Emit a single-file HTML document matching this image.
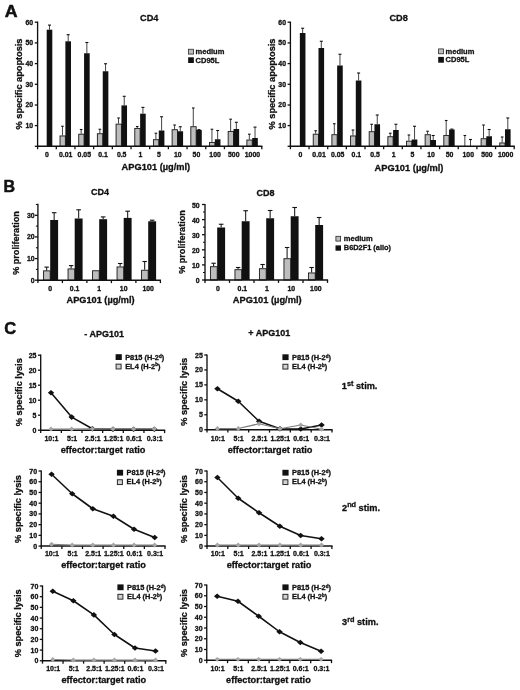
<!DOCTYPE html>
<html lang="en"><head><meta charset="utf-8"><title>Figure</title>
<style>html,body{margin:0;padding:0;background:#fff}svg{display:block;filter:blur(0.4px)}text{font-family:"Liberation Sans", sans-serif;font-weight:bold;fill:#111;stroke:#111;stroke-width:0.3px;stroke-linejoin:round}</style></head><body>
<svg width="520" height="690" viewBox="0 0 520 690">
<rect width="520" height="690" fill="#fff"/>
<text transform="translate(4.7 17.1) scale(1.11 1)" font-size="16" style="stroke-width:0.5px">A</text>
<text x="3.6" y="191.5" font-size="16" text-anchor="start" style="stroke-width:0.5px">B</text>
<text x="4.3" y="333.5" font-size="16.5" text-anchor="start" style="stroke-width:0.5px">C</text>
<rect x="46.70" y="29.70" width="5.60" height="116.60" fill="#111"/>
<line x1="49.50" y1="25.10" x2="49.50" y2="29.70" stroke="#222" stroke-width="0.85"/>
<line x1="48.00" y1="25.10" x2="51.00" y2="25.10" stroke="#111" stroke-width="1.1"/>
<rect x="60.03" y="135.95" width="5.35" height="10.35" fill="#bdbdbd" stroke="#222" stroke-width="0.95"/>
<line x1="62.48" y1="126.25" x2="62.48" y2="135.50" stroke="#222" stroke-width="0.85"/>
<line x1="61.18" y1="126.25" x2="63.78" y2="126.25" stroke="#111" stroke-width="1.1"/>
<rect x="65.38" y="41.30" width="5.60" height="105.00" fill="#111"/>
<line x1="68.18" y1="34.70" x2="68.18" y2="41.30" stroke="#222" stroke-width="0.85"/>
<line x1="66.68" y1="34.70" x2="69.68" y2="34.70" stroke="#111" stroke-width="1.1"/>
<rect x="78.72" y="134.20" width="5.35" height="12.10" fill="#bdbdbd" stroke="#222" stroke-width="0.95"/>
<line x1="81.17" y1="129.50" x2="81.17" y2="133.75" stroke="#222" stroke-width="0.85"/>
<line x1="79.87" y1="129.50" x2="82.47" y2="129.50" stroke="#111" stroke-width="1.1"/>
<rect x="84.07" y="53.25" width="5.60" height="93.05" fill="#111"/>
<line x1="86.87" y1="42.50" x2="86.87" y2="53.25" stroke="#222" stroke-width="0.85"/>
<line x1="85.37" y1="42.50" x2="88.37" y2="42.50" stroke="#111" stroke-width="1.1"/>
<rect x="97.40" y="133.70" width="5.35" height="12.60" fill="#bdbdbd" stroke="#222" stroke-width="0.95"/>
<line x1="99.85" y1="129.25" x2="99.85" y2="133.25" stroke="#222" stroke-width="0.85"/>
<line x1="98.55" y1="129.25" x2="101.15" y2="129.25" stroke="#111" stroke-width="1.1"/>
<rect x="102.75" y="71.25" width="5.60" height="75.05" fill="#111"/>
<line x1="105.55" y1="63.75" x2="105.55" y2="71.25" stroke="#222" stroke-width="0.85"/>
<line x1="104.05" y1="63.75" x2="107.05" y2="63.75" stroke="#111" stroke-width="1.1"/>
<rect x="116.08" y="124.15" width="5.35" height="22.15" fill="#bdbdbd" stroke="#222" stroke-width="0.95"/>
<line x1="118.53" y1="118.00" x2="118.53" y2="123.70" stroke="#222" stroke-width="0.85"/>
<line x1="117.23" y1="118.00" x2="119.83" y2="118.00" stroke="#111" stroke-width="1.1"/>
<rect x="121.43" y="105.40" width="5.60" height="40.90" fill="#111"/>
<line x1="124.23" y1="96.30" x2="124.23" y2="105.40" stroke="#222" stroke-width="0.85"/>
<line x1="122.73" y1="96.30" x2="125.73" y2="96.30" stroke="#111" stroke-width="1.1"/>
<rect x="134.77" y="128.45" width="5.35" height="17.85" fill="#bdbdbd" stroke="#222" stroke-width="0.95"/>
<line x1="137.22" y1="126.50" x2="137.22" y2="128.00" stroke="#222" stroke-width="0.85"/>
<line x1="135.92" y1="126.50" x2="138.52" y2="126.50" stroke="#111" stroke-width="1.1"/>
<rect x="140.12" y="113.70" width="5.60" height="32.60" fill="#111"/>
<line x1="142.92" y1="107.40" x2="142.92" y2="113.70" stroke="#222" stroke-width="0.85"/>
<line x1="141.42" y1="107.40" x2="144.42" y2="107.40" stroke="#111" stroke-width="1.1"/>
<rect x="153.45" y="139.70" width="5.35" height="6.60" fill="#bdbdbd" stroke="#222" stroke-width="0.95"/>
<line x1="155.90" y1="133.25" x2="155.90" y2="139.25" stroke="#222" stroke-width="0.85"/>
<line x1="154.60" y1="133.25" x2="157.20" y2="133.25" stroke="#111" stroke-width="1.1"/>
<rect x="158.80" y="130.50" width="5.60" height="15.80" fill="#111"/>
<line x1="161.60" y1="116.75" x2="161.60" y2="130.50" stroke="#222" stroke-width="0.85"/>
<line x1="160.10" y1="116.75" x2="163.10" y2="116.75" stroke="#111" stroke-width="1.1"/>
<rect x="172.13" y="129.70" width="5.35" height="16.60" fill="#bdbdbd" stroke="#222" stroke-width="0.95"/>
<line x1="174.58" y1="125.00" x2="174.58" y2="129.25" stroke="#222" stroke-width="0.85"/>
<line x1="173.28" y1="125.00" x2="175.88" y2="125.00" stroke="#111" stroke-width="1.1"/>
<rect x="177.48" y="131.25" width="5.60" height="15.05" fill="#111"/>
<line x1="180.28" y1="126.75" x2="180.28" y2="131.25" stroke="#222" stroke-width="0.85"/>
<line x1="178.78" y1="126.75" x2="181.78" y2="126.75" stroke="#111" stroke-width="1.1"/>
<rect x="190.82" y="126.70" width="5.35" height="19.60" fill="#bdbdbd" stroke="#222" stroke-width="0.95"/>
<line x1="193.27" y1="108.00" x2="193.27" y2="126.25" stroke="#222" stroke-width="0.85"/>
<line x1="191.97" y1="108.00" x2="194.57" y2="108.00" stroke="#111" stroke-width="1.1"/>
<rect x="196.17" y="130.00" width="5.60" height="16.30" fill="#111"/>
<line x1="198.97" y1="129.60" x2="198.97" y2="130.00" stroke="#222" stroke-width="0.85"/>
<line x1="197.47" y1="129.60" x2="200.47" y2="129.60" stroke="#111" stroke-width="1.1"/>
<rect x="209.50" y="142.45" width="5.35" height="3.85" fill="#bdbdbd" stroke="#222" stroke-width="0.95"/>
<line x1="211.95" y1="129.25" x2="211.95" y2="142.00" stroke="#222" stroke-width="0.85"/>
<line x1="210.65" y1="129.25" x2="213.25" y2="129.25" stroke="#111" stroke-width="1.1"/>
<rect x="214.85" y="139.25" width="5.60" height="7.05" fill="#111"/>
<line x1="217.65" y1="130.50" x2="217.65" y2="139.25" stroke="#222" stroke-width="0.85"/>
<line x1="216.15" y1="130.50" x2="219.15" y2="130.50" stroke="#111" stroke-width="1.1"/>
<rect x="228.18" y="131.45" width="5.35" height="14.85" fill="#bdbdbd" stroke="#222" stroke-width="0.95"/>
<line x1="230.63" y1="119.20" x2="230.63" y2="131.00" stroke="#222" stroke-width="0.85"/>
<line x1="229.33" y1="119.20" x2="231.93" y2="119.20" stroke="#111" stroke-width="1.1"/>
<rect x="233.53" y="129.00" width="5.60" height="17.30" fill="#111"/>
<line x1="236.33" y1="122.30" x2="236.33" y2="129.00" stroke="#222" stroke-width="0.85"/>
<line x1="234.83" y1="122.30" x2="237.83" y2="122.30" stroke="#111" stroke-width="1.1"/>
<rect x="246.87" y="140.05" width="5.35" height="6.25" fill="#bdbdbd" stroke="#222" stroke-width="0.95"/>
<line x1="249.32" y1="134.20" x2="249.32" y2="139.60" stroke="#222" stroke-width="0.85"/>
<line x1="248.02" y1="134.20" x2="250.62" y2="134.20" stroke="#111" stroke-width="1.1"/>
<rect x="252.22" y="138.00" width="5.60" height="8.30" fill="#111"/>
<line x1="255.02" y1="127.10" x2="255.02" y2="138.00" stroke="#222" stroke-width="0.85"/>
<line x1="253.52" y1="127.10" x2="256.52" y2="127.10" stroke="#111" stroke-width="1.1"/>
<line x1="37.60" y1="21.60" x2="37.60" y2="147.00" stroke="#111" stroke-width="1.35"/>
<line x1="37.00" y1="146.30" x2="262.40" y2="146.30" stroke="#111" stroke-width="1.5"/>
<line x1="37.60" y1="146.30" x2="37.60" y2="149.20" stroke="#111" stroke-width="1.3"/>
<line x1="56.28" y1="146.30" x2="56.28" y2="149.20" stroke="#111" stroke-width="1.3"/>
<line x1="74.97" y1="146.30" x2="74.97" y2="149.20" stroke="#111" stroke-width="1.3"/>
<line x1="93.65" y1="146.30" x2="93.65" y2="149.20" stroke="#111" stroke-width="1.3"/>
<line x1="112.33" y1="146.30" x2="112.33" y2="149.20" stroke="#111" stroke-width="1.3"/>
<line x1="131.02" y1="146.30" x2="131.02" y2="149.20" stroke="#111" stroke-width="1.3"/>
<line x1="149.70" y1="146.30" x2="149.70" y2="149.20" stroke="#111" stroke-width="1.3"/>
<line x1="168.38" y1="146.30" x2="168.38" y2="149.20" stroke="#111" stroke-width="1.3"/>
<line x1="187.07" y1="146.30" x2="187.07" y2="149.20" stroke="#111" stroke-width="1.3"/>
<line x1="205.75" y1="146.30" x2="205.75" y2="149.20" stroke="#111" stroke-width="1.3"/>
<line x1="224.43" y1="146.30" x2="224.43" y2="149.20" stroke="#111" stroke-width="1.3"/>
<line x1="243.12" y1="146.30" x2="243.12" y2="149.20" stroke="#111" stroke-width="1.3"/>
<line x1="261.80" y1="146.30" x2="261.80" y2="149.20" stroke="#111" stroke-width="1.3"/>
<line x1="34.80" y1="22.20" x2="37.60" y2="22.20" stroke="#111" stroke-width="1.3"/>
<text x="33.2" y="24.55" font-size="6.9" text-anchor="end">60</text>
<line x1="34.80" y1="42.90" x2="37.60" y2="42.90" stroke="#111" stroke-width="1.3"/>
<text x="33.2" y="45.25" font-size="6.9" text-anchor="end">50</text>
<line x1="34.80" y1="63.60" x2="37.60" y2="63.60" stroke="#111" stroke-width="1.3"/>
<text x="33.2" y="65.95" font-size="6.9" text-anchor="end">40</text>
<line x1="34.80" y1="84.30" x2="37.60" y2="84.30" stroke="#111" stroke-width="1.3"/>
<text x="33.2" y="86.65" font-size="6.9" text-anchor="end">30</text>
<line x1="34.80" y1="105.00" x2="37.60" y2="105.00" stroke="#111" stroke-width="1.3"/>
<text x="33.2" y="107.35" font-size="6.9" text-anchor="end">20</text>
<line x1="34.80" y1="125.60" x2="37.60" y2="125.60" stroke="#111" stroke-width="1.3"/>
<text x="33.2" y="127.95" font-size="6.9" text-anchor="end">10</text>
<line x1="34.80" y1="146.30" x2="37.60" y2="146.30" stroke="#111" stroke-width="1.3"/>
<text x="46.94" y="156.6" font-size="6.9" text-anchor="middle">0</text>
<text x="65.62" y="156.6" font-size="6.9" text-anchor="middle">0.01</text>
<text x="84.31" y="156.6" font-size="6.9" text-anchor="middle">0.05</text>
<text x="102.99" y="156.6" font-size="6.9" text-anchor="middle">0.1</text>
<text x="121.68" y="156.6" font-size="6.9" text-anchor="middle">0.5</text>
<text x="140.36" y="156.6" font-size="6.9" text-anchor="middle">1</text>
<text x="159.04" y="156.6" font-size="6.9" text-anchor="middle">5</text>
<text x="177.72" y="156.6" font-size="6.9" text-anchor="middle">10</text>
<text x="196.41" y="156.6" font-size="6.9" text-anchor="middle">50</text>
<text x="215.09" y="156.6" font-size="6.9" text-anchor="middle">100</text>
<text x="233.78" y="156.6" font-size="6.9" text-anchor="middle">500</text>
<text x="252.46" y="156.6" font-size="6.9" text-anchor="middle">1000</text>
<text x="149.2" y="21.4" font-size="9.2" text-anchor="middle">CD4</text>
<text x="155.9" y="170.3" font-size="9.25" text-anchor="middle">APG101 (µg/ml)</text>
<text x="21.6" y="84.0" font-size="9.2" text-anchor="middle" transform="rotate(-90 21.6 84.0)">% specific apoptosis</text>
<rect x="188.55" y="49.25" width="4.90" height="4.85" fill="#bdbdbd" stroke="#2a2a2a" stroke-width="0.8"/>
<text x="195.6" y="54.0" font-size="7.5" text-anchor="start">medium</text>
<rect x="188.15" y="57.30" width="5.70" height="5.70" fill="#111"/>
<text x="195.6" y="62.6" font-size="7.5" text-anchor="start">CD95L</text>
<rect x="299.85" y="33.00" width="5.60" height="113.30" fill="#111"/>
<line x1="302.65" y1="28.25" x2="302.65" y2="33.00" stroke="#222" stroke-width="0.85"/>
<line x1="301.15" y1="28.25" x2="304.15" y2="28.25" stroke="#111" stroke-width="1.1"/>
<rect x="313.25" y="134.20" width="5.25" height="12.10" fill="#bdbdbd" stroke="#222" stroke-width="0.95"/>
<line x1="315.65" y1="130.75" x2="315.65" y2="133.75" stroke="#222" stroke-width="0.85"/>
<line x1="314.35" y1="130.75" x2="316.95" y2="130.75" stroke="#111" stroke-width="1.1"/>
<rect x="318.50" y="48.00" width="5.60" height="98.30" fill="#111"/>
<line x1="321.30" y1="41.25" x2="321.30" y2="48.00" stroke="#222" stroke-width="0.85"/>
<line x1="319.80" y1="41.25" x2="322.80" y2="41.25" stroke="#111" stroke-width="1.1"/>
<rect x="331.90" y="134.70" width="5.25" height="11.60" fill="#bdbdbd" stroke="#222" stroke-width="0.95"/>
<line x1="334.30" y1="123.75" x2="334.30" y2="134.25" stroke="#222" stroke-width="0.85"/>
<line x1="333.00" y1="123.75" x2="335.60" y2="123.75" stroke="#111" stroke-width="1.1"/>
<rect x="337.15" y="65.50" width="5.60" height="80.80" fill="#111"/>
<line x1="339.95" y1="54.25" x2="339.95" y2="65.50" stroke="#222" stroke-width="0.85"/>
<line x1="338.45" y1="54.25" x2="341.45" y2="54.25" stroke="#111" stroke-width="1.1"/>
<rect x="350.55" y="135.95" width="5.25" height="10.35" fill="#bdbdbd" stroke="#222" stroke-width="0.95"/>
<line x1="352.95" y1="130.00" x2="352.95" y2="135.50" stroke="#222" stroke-width="0.85"/>
<line x1="351.65" y1="130.00" x2="354.25" y2="130.00" stroke="#111" stroke-width="1.1"/>
<rect x="355.80" y="80.50" width="5.60" height="65.80" fill="#111"/>
<line x1="358.60" y1="73.00" x2="358.60" y2="80.50" stroke="#222" stroke-width="0.85"/>
<line x1="357.10" y1="73.00" x2="360.10" y2="73.00" stroke="#111" stroke-width="1.1"/>
<rect x="369.20" y="131.70" width="5.25" height="14.60" fill="#bdbdbd" stroke="#222" stroke-width="0.95"/>
<line x1="371.60" y1="124.25" x2="371.60" y2="131.25" stroke="#222" stroke-width="0.85"/>
<line x1="370.30" y1="124.25" x2="372.90" y2="124.25" stroke="#111" stroke-width="1.1"/>
<rect x="374.45" y="124.25" width="5.60" height="22.05" fill="#111"/>
<line x1="377.25" y1="115.00" x2="377.25" y2="124.25" stroke="#222" stroke-width="0.85"/>
<line x1="375.75" y1="115.00" x2="378.75" y2="115.00" stroke="#111" stroke-width="1.1"/>
<rect x="387.85" y="136.70" width="5.25" height="9.60" fill="#bdbdbd" stroke="#222" stroke-width="0.95"/>
<line x1="390.25" y1="133.25" x2="390.25" y2="136.25" stroke="#222" stroke-width="0.85"/>
<line x1="388.95" y1="133.25" x2="391.55" y2="133.25" stroke="#111" stroke-width="1.1"/>
<rect x="393.10" y="130.00" width="5.60" height="16.30" fill="#111"/>
<line x1="395.90" y1="124.25" x2="395.90" y2="130.00" stroke="#222" stroke-width="0.85"/>
<line x1="394.40" y1="124.25" x2="397.40" y2="124.25" stroke="#111" stroke-width="1.1"/>
<rect x="406.50" y="141.20" width="5.25" height="5.10" fill="#bdbdbd" stroke="#222" stroke-width="0.95"/>
<line x1="408.90" y1="135.00" x2="408.90" y2="140.75" stroke="#222" stroke-width="0.85"/>
<line x1="407.60" y1="135.00" x2="410.20" y2="135.00" stroke="#111" stroke-width="1.1"/>
<rect x="411.75" y="139.50" width="5.60" height="6.80" fill="#111"/>
<line x1="414.55" y1="126.25" x2="414.55" y2="139.50" stroke="#222" stroke-width="0.85"/>
<line x1="413.05" y1="126.25" x2="416.05" y2="126.25" stroke="#111" stroke-width="1.1"/>
<rect x="425.15" y="134.70" width="5.25" height="11.60" fill="#bdbdbd" stroke="#222" stroke-width="0.95"/>
<line x1="427.55" y1="131.25" x2="427.55" y2="134.25" stroke="#222" stroke-width="0.85"/>
<line x1="426.25" y1="131.25" x2="428.85" y2="131.25" stroke="#111" stroke-width="1.1"/>
<rect x="430.40" y="140.00" width="5.60" height="6.30" fill="#111"/>
<line x1="433.20" y1="135.50" x2="433.20" y2="140.00" stroke="#222" stroke-width="0.85"/>
<line x1="431.70" y1="135.50" x2="434.70" y2="135.50" stroke="#111" stroke-width="1.1"/>
<rect x="443.80" y="135.45" width="5.25" height="10.85" fill="#bdbdbd" stroke="#222" stroke-width="0.95"/>
<line x1="446.20" y1="120.50" x2="446.20" y2="135.00" stroke="#222" stroke-width="0.85"/>
<line x1="444.90" y1="120.50" x2="447.50" y2="120.50" stroke="#111" stroke-width="1.1"/>
<rect x="449.05" y="129.50" width="5.60" height="16.80" fill="#111"/>
<line x1="451.85" y1="129.10" x2="451.85" y2="129.50" stroke="#222" stroke-width="0.85"/>
<line x1="450.35" y1="129.10" x2="453.35" y2="129.10" stroke="#111" stroke-width="1.1"/>
<line x1="464.85" y1="135.50" x2="464.85" y2="146.30" stroke="#222" stroke-width="0.85"/>
<line x1="463.55" y1="135.50" x2="466.15" y2="135.50" stroke="#111" stroke-width="1.1"/>
<line x1="470.50" y1="139.50" x2="470.50" y2="146.30" stroke="#222" stroke-width="0.85"/>
<line x1="469.00" y1="139.50" x2="472.00" y2="139.50" stroke="#111" stroke-width="1.1"/>
<rect x="481.10" y="138.70" width="5.25" height="7.60" fill="#bdbdbd" stroke="#222" stroke-width="0.95"/>
<line x1="483.50" y1="125.00" x2="483.50" y2="138.25" stroke="#222" stroke-width="0.85"/>
<line x1="482.20" y1="125.00" x2="484.80" y2="125.00" stroke="#111" stroke-width="1.1"/>
<rect x="486.35" y="136.25" width="5.60" height="10.05" fill="#111"/>
<line x1="489.15" y1="129.50" x2="489.15" y2="136.25" stroke="#222" stroke-width="0.85"/>
<line x1="487.65" y1="129.50" x2="490.65" y2="129.50" stroke="#111" stroke-width="1.1"/>
<rect x="499.75" y="142.95" width="5.25" height="3.35" fill="#bdbdbd" stroke="#222" stroke-width="0.95"/>
<line x1="502.15" y1="137.00" x2="502.15" y2="142.50" stroke="#222" stroke-width="0.85"/>
<line x1="500.85" y1="137.00" x2="503.45" y2="137.00" stroke="#111" stroke-width="1.1"/>
<rect x="505.00" y="129.25" width="5.60" height="17.05" fill="#111"/>
<line x1="507.80" y1="118.00" x2="507.80" y2="129.25" stroke="#222" stroke-width="0.85"/>
<line x1="506.30" y1="118.00" x2="509.30" y2="118.00" stroke="#111" stroke-width="1.1"/>
<line x1="290.40" y1="21.60" x2="290.40" y2="147.00" stroke="#111" stroke-width="1.35"/>
<line x1="289.80" y1="146.30" x2="514.80" y2="146.30" stroke="#111" stroke-width="1.5"/>
<line x1="290.40" y1="146.30" x2="290.40" y2="149.20" stroke="#111" stroke-width="1.3"/>
<line x1="309.05" y1="146.30" x2="309.05" y2="149.20" stroke="#111" stroke-width="1.3"/>
<line x1="327.70" y1="146.30" x2="327.70" y2="149.20" stroke="#111" stroke-width="1.3"/>
<line x1="346.35" y1="146.30" x2="346.35" y2="149.20" stroke="#111" stroke-width="1.3"/>
<line x1="365.00" y1="146.30" x2="365.00" y2="149.20" stroke="#111" stroke-width="1.3"/>
<line x1="383.65" y1="146.30" x2="383.65" y2="149.20" stroke="#111" stroke-width="1.3"/>
<line x1="402.30" y1="146.30" x2="402.30" y2="149.20" stroke="#111" stroke-width="1.3"/>
<line x1="420.95" y1="146.30" x2="420.95" y2="149.20" stroke="#111" stroke-width="1.3"/>
<line x1="439.60" y1="146.30" x2="439.60" y2="149.20" stroke="#111" stroke-width="1.3"/>
<line x1="458.25" y1="146.30" x2="458.25" y2="149.20" stroke="#111" stroke-width="1.3"/>
<line x1="476.90" y1="146.30" x2="476.90" y2="149.20" stroke="#111" stroke-width="1.3"/>
<line x1="495.55" y1="146.30" x2="495.55" y2="149.20" stroke="#111" stroke-width="1.3"/>
<line x1="514.20" y1="146.30" x2="514.20" y2="149.20" stroke="#111" stroke-width="1.3"/>
<line x1="287.60" y1="22.20" x2="290.40" y2="22.20" stroke="#111" stroke-width="1.3"/>
<text x="286.0" y="24.55" font-size="6.9" text-anchor="end">60</text>
<line x1="287.60" y1="42.90" x2="290.40" y2="42.90" stroke="#111" stroke-width="1.3"/>
<text x="286.0" y="45.25" font-size="6.9" text-anchor="end">50</text>
<line x1="287.60" y1="63.60" x2="290.40" y2="63.60" stroke="#111" stroke-width="1.3"/>
<text x="286.0" y="65.95" font-size="6.9" text-anchor="end">40</text>
<line x1="287.60" y1="84.30" x2="290.40" y2="84.30" stroke="#111" stroke-width="1.3"/>
<text x="286.0" y="86.65" font-size="6.9" text-anchor="end">30</text>
<line x1="287.60" y1="105.00" x2="290.40" y2="105.00" stroke="#111" stroke-width="1.3"/>
<text x="286.0" y="107.35" font-size="6.9" text-anchor="end">20</text>
<line x1="287.60" y1="125.60" x2="290.40" y2="125.60" stroke="#111" stroke-width="1.3"/>
<text x="286.0" y="127.95" font-size="6.9" text-anchor="end">10</text>
<line x1="287.60" y1="146.30" x2="290.40" y2="146.30" stroke="#111" stroke-width="1.3"/>
<text x="300.42" y="156.6" font-size="6.9" text-anchor="middle">0</text>
<text x="319.07" y="156.6" font-size="6.9" text-anchor="middle">0.01</text>
<text x="337.72" y="156.6" font-size="6.9" text-anchor="middle">0.05</text>
<text x="356.38" y="156.6" font-size="6.9" text-anchor="middle">0.1</text>
<text x="375.02" y="156.6" font-size="6.9" text-anchor="middle">0.5</text>
<text x="393.68" y="156.6" font-size="6.9" text-anchor="middle">1</text>
<text x="412.32" y="156.6" font-size="6.9" text-anchor="middle">5</text>
<text x="430.98" y="156.6" font-size="6.9" text-anchor="middle">10</text>
<text x="449.62" y="156.6" font-size="6.9" text-anchor="middle">50</text>
<text x="468.28" y="156.6" font-size="6.9" text-anchor="middle">100</text>
<text x="486.93" y="156.6" font-size="6.9" text-anchor="middle">500</text>
<text x="505.58" y="156.6" font-size="6.9" text-anchor="middle">1000</text>
<text x="398.6" y="21.4" font-size="9.2" text-anchor="middle">CD8</text>
<text x="409.0" y="170.5" font-size="9.3" text-anchor="middle">APG101 (µg/ml)</text>
<text x="275.3" y="84.0" font-size="9.2" text-anchor="middle" transform="rotate(-90 275.3 84.0)">% specific apoptosis</text>
<rect x="438.60" y="48.90" width="4.90" height="4.90" fill="#bdbdbd" stroke="#2a2a2a" stroke-width="0.8"/>
<text x="445.6" y="53.9" font-size="7.5" text-anchor="start">medium</text>
<rect x="438.20" y="56.90" width="5.70" height="5.80" fill="#111"/>
<text x="445.6" y="62.2" font-size="7.5" text-anchor="start">CD95L</text>
<rect x="43.55" y="270.85" width="6.65" height="9.35" fill="#bdbdbd" stroke="#222" stroke-width="0.95"/>
<line x1="46.65" y1="267.10" x2="46.65" y2="270.40" stroke="#222" stroke-width="1.1"/>
<line x1="44.45" y1="267.10" x2="48.85" y2="267.10" stroke="#111" stroke-width="1.1"/>
<rect x="50.20" y="220.00" width="7.90" height="60.20" fill="#111"/>
<line x1="54.15" y1="212.70" x2="54.15" y2="220.00" stroke="#222" stroke-width="1.1"/>
<line x1="51.85" y1="212.70" x2="56.45" y2="212.70" stroke="#111" stroke-width="1.1"/>
<rect x="68.05" y="268.95" width="6.65" height="11.25" fill="#bdbdbd" stroke="#222" stroke-width="0.95"/>
<line x1="71.15" y1="265.60" x2="71.15" y2="268.50" stroke="#222" stroke-width="1.1"/>
<line x1="68.95" y1="265.60" x2="73.35" y2="265.60" stroke="#111" stroke-width="1.1"/>
<rect x="74.70" y="218.50" width="7.90" height="61.70" fill="#111"/>
<line x1="78.65" y1="209.80" x2="78.65" y2="218.50" stroke="#222" stroke-width="1.1"/>
<line x1="76.35" y1="209.80" x2="80.95" y2="209.80" stroke="#111" stroke-width="1.1"/>
<rect x="92.55" y="270.75" width="6.65" height="9.45" fill="#bdbdbd" stroke="#222" stroke-width="0.95"/>
<rect x="99.20" y="219.20" width="7.90" height="61.00" fill="#111"/>
<line x1="103.15" y1="216.90" x2="103.15" y2="219.20" stroke="#222" stroke-width="1.1"/>
<line x1="100.85" y1="216.90" x2="105.45" y2="216.90" stroke="#111" stroke-width="1.1"/>
<rect x="117.05" y="266.95" width="6.65" height="13.25" fill="#bdbdbd" stroke="#222" stroke-width="0.95"/>
<line x1="120.15" y1="263.50" x2="120.15" y2="266.50" stroke="#222" stroke-width="1.1"/>
<line x1="117.95" y1="263.50" x2="122.35" y2="263.50" stroke="#111" stroke-width="1.1"/>
<rect x="123.70" y="217.90" width="7.90" height="62.30" fill="#111"/>
<line x1="127.65" y1="211.20" x2="127.65" y2="217.90" stroke="#222" stroke-width="1.1"/>
<line x1="125.35" y1="211.20" x2="129.95" y2="211.20" stroke="#111" stroke-width="1.1"/>
<rect x="141.55" y="270.25" width="6.65" height="9.95" fill="#bdbdbd" stroke="#222" stroke-width="0.95"/>
<line x1="144.65" y1="261.50" x2="144.65" y2="269.80" stroke="#222" stroke-width="1.1"/>
<line x1="142.45" y1="261.50" x2="146.85" y2="261.50" stroke="#111" stroke-width="1.1"/>
<rect x="148.20" y="221.30" width="7.90" height="58.90" fill="#111"/>
<line x1="152.15" y1="220.20" x2="152.15" y2="221.30" stroke="#222" stroke-width="1.1"/>
<line x1="149.85" y1="220.20" x2="154.45" y2="220.20" stroke="#111" stroke-width="1.1"/>
<line x1="37.90" y1="203.70" x2="37.90" y2="280.90" stroke="#111" stroke-width="1.35"/>
<line x1="37.30" y1="280.20" x2="161.00" y2="280.20" stroke="#111" stroke-width="1.5"/>
<line x1="37.90" y1="280.20" x2="37.90" y2="283.10" stroke="#111" stroke-width="1.3"/>
<line x1="62.40" y1="280.20" x2="62.40" y2="283.10" stroke="#111" stroke-width="1.3"/>
<line x1="86.90" y1="280.20" x2="86.90" y2="283.10" stroke="#111" stroke-width="1.3"/>
<line x1="111.40" y1="280.20" x2="111.40" y2="283.10" stroke="#111" stroke-width="1.3"/>
<line x1="135.90" y1="280.20" x2="135.90" y2="283.10" stroke="#111" stroke-width="1.3"/>
<line x1="160.40" y1="280.20" x2="160.40" y2="283.10" stroke="#111" stroke-width="1.3"/>
<line x1="34.90" y1="215.30" x2="37.90" y2="215.30" stroke="#111" stroke-width="1.3"/>
<text x="34.6" y="217.65" font-size="6.9" text-anchor="end">30</text>
<line x1="34.90" y1="236.90" x2="37.90" y2="236.90" stroke="#111" stroke-width="1.3"/>
<text x="34.6" y="239.25" font-size="6.9" text-anchor="end">20</text>
<line x1="34.90" y1="258.60" x2="37.90" y2="258.60" stroke="#111" stroke-width="1.3"/>
<text x="34.6" y="260.95" font-size="6.9" text-anchor="end">10</text>
<line x1="34.90" y1="280.20" x2="37.90" y2="280.20" stroke="#111" stroke-width="1.3"/>
<text x="34.6" y="282.55" font-size="6.9" text-anchor="end">0</text>
<line x1="35.90" y1="204.50" x2="37.90" y2="204.50" stroke="#111" stroke-width="1.1"/>
<line x1="35.90" y1="226.10" x2="37.90" y2="226.10" stroke="#111" stroke-width="1.1"/>
<line x1="35.90" y1="247.75" x2="37.90" y2="247.75" stroke="#111" stroke-width="1.1"/>
<line x1="35.90" y1="269.40" x2="37.90" y2="269.40" stroke="#111" stroke-width="1.1"/>
<text x="50.15" y="290.5" font-size="6.9" text-anchor="middle">0</text>
<text x="74.65" y="290.5" font-size="6.9" text-anchor="middle">0.1</text>
<text x="99.15" y="290.5" font-size="6.9" text-anchor="middle">1</text>
<text x="123.65" y="290.5" font-size="6.9" text-anchor="middle">10</text>
<text x="148.15" y="290.5" font-size="6.9" text-anchor="middle">100</text>
<text x="100.0" y="195.3" font-size="9" text-anchor="middle">CD4</text>
<text x="100.6" y="302.8" font-size="9.2" text-anchor="middle">APG101 (µg/ml)</text>
<text x="18.8" y="243.0" font-size="9.1" text-anchor="middle" transform="rotate(-90 18.8 243.0)">% proliferation</text>
<rect x="210.45" y="266.70" width="6.75" height="13.30" fill="#bdbdbd" stroke="#222" stroke-width="0.95"/>
<line x1="213.60" y1="263.25" x2="213.60" y2="266.25" stroke="#222" stroke-width="1.1"/>
<line x1="211.40" y1="263.25" x2="215.80" y2="263.25" stroke="#111" stroke-width="1.1"/>
<rect x="217.20" y="227.50" width="7.90" height="52.50" fill="#111"/>
<line x1="221.15" y1="224.25" x2="221.15" y2="227.50" stroke="#222" stroke-width="1.1"/>
<line x1="218.85" y1="224.25" x2="223.45" y2="224.25" stroke="#111" stroke-width="1.1"/>
<rect x="234.95" y="269.70" width="6.75" height="10.30" fill="#bdbdbd" stroke="#222" stroke-width="0.95"/>
<line x1="238.10" y1="267.50" x2="238.10" y2="269.25" stroke="#222" stroke-width="1.1"/>
<line x1="235.90" y1="267.50" x2="240.30" y2="267.50" stroke="#111" stroke-width="1.1"/>
<rect x="241.70" y="221.25" width="7.90" height="58.75" fill="#111"/>
<line x1="245.65" y1="210.75" x2="245.65" y2="221.25" stroke="#222" stroke-width="1.1"/>
<line x1="243.35" y1="210.75" x2="247.95" y2="210.75" stroke="#111" stroke-width="1.1"/>
<rect x="259.45" y="268.70" width="6.75" height="11.30" fill="#bdbdbd" stroke="#222" stroke-width="0.95"/>
<line x1="262.60" y1="264.50" x2="262.60" y2="268.25" stroke="#222" stroke-width="1.1"/>
<line x1="260.40" y1="264.50" x2="264.80" y2="264.50" stroke="#111" stroke-width="1.1"/>
<rect x="266.20" y="218.25" width="7.90" height="61.75" fill="#111"/>
<line x1="270.15" y1="210.50" x2="270.15" y2="218.25" stroke="#222" stroke-width="1.1"/>
<line x1="267.85" y1="210.50" x2="272.45" y2="210.50" stroke="#111" stroke-width="1.1"/>
<rect x="283.95" y="258.70" width="6.75" height="21.30" fill="#bdbdbd" stroke="#222" stroke-width="0.95"/>
<line x1="287.10" y1="247.50" x2="287.10" y2="258.25" stroke="#222" stroke-width="1.1"/>
<line x1="284.90" y1="247.50" x2="289.30" y2="247.50" stroke="#111" stroke-width="1.1"/>
<rect x="290.70" y="216.25" width="7.90" height="63.75" fill="#111"/>
<line x1="294.65" y1="207.50" x2="294.65" y2="216.25" stroke="#222" stroke-width="1.1"/>
<line x1="292.35" y1="207.50" x2="296.95" y2="207.50" stroke="#111" stroke-width="1.1"/>
<rect x="308.45" y="272.95" width="6.75" height="7.05" fill="#bdbdbd" stroke="#222" stroke-width="0.95"/>
<line x1="311.60" y1="267.50" x2="311.60" y2="272.50" stroke="#222" stroke-width="1.1"/>
<line x1="309.40" y1="267.50" x2="313.80" y2="267.50" stroke="#111" stroke-width="1.1"/>
<rect x="315.20" y="225.00" width="7.90" height="55.00" fill="#111"/>
<line x1="319.15" y1="217.50" x2="319.15" y2="225.00" stroke="#222" stroke-width="1.1"/>
<line x1="316.85" y1="217.50" x2="321.45" y2="217.50" stroke="#111" stroke-width="1.1"/>
<line x1="205.00" y1="203.90" x2="205.00" y2="280.70" stroke="#111" stroke-width="1.35"/>
<line x1="204.40" y1="280.00" x2="328.10" y2="280.00" stroke="#111" stroke-width="1.5"/>
<line x1="205.00" y1="280.00" x2="205.00" y2="282.90" stroke="#111" stroke-width="1.3"/>
<line x1="229.50" y1="280.00" x2="229.50" y2="282.90" stroke="#111" stroke-width="1.3"/>
<line x1="254.00" y1="280.00" x2="254.00" y2="282.90" stroke="#111" stroke-width="1.3"/>
<line x1="278.50" y1="280.00" x2="278.50" y2="282.90" stroke="#111" stroke-width="1.3"/>
<line x1="303.00" y1="280.00" x2="303.00" y2="282.90" stroke="#111" stroke-width="1.3"/>
<line x1="327.50" y1="280.00" x2="327.50" y2="282.90" stroke="#111" stroke-width="1.3"/>
<line x1="202.00" y1="204.50" x2="205.00" y2="204.50" stroke="#111" stroke-width="1.3"/>
<text x="199.6" y="207.9" font-size="6.9" text-anchor="end">50</text>
<line x1="202.00" y1="219.60" x2="205.00" y2="219.60" stroke="#111" stroke-width="1.3"/>
<text x="199.6" y="223.0" font-size="6.9" text-anchor="end">40</text>
<line x1="202.00" y1="234.70" x2="205.00" y2="234.70" stroke="#111" stroke-width="1.3"/>
<text x="199.6" y="238.1" font-size="6.9" text-anchor="end">30</text>
<line x1="202.00" y1="249.80" x2="205.00" y2="249.80" stroke="#111" stroke-width="1.3"/>
<text x="199.6" y="253.2" font-size="6.9" text-anchor="end">20</text>
<line x1="202.00" y1="264.90" x2="205.00" y2="264.90" stroke="#111" stroke-width="1.3"/>
<text x="199.6" y="268.3" font-size="6.9" text-anchor="end">10</text>
<line x1="202.00" y1="280.00" x2="205.00" y2="280.00" stroke="#111" stroke-width="1.3"/>
<text x="199.6" y="283.4" font-size="6.9" text-anchor="end">0</text>
<line x1="203.00" y1="212.05" x2="205.00" y2="212.05" stroke="#111" stroke-width="1.1"/>
<line x1="203.00" y1="227.15" x2="205.00" y2="227.15" stroke="#111" stroke-width="1.1"/>
<line x1="203.00" y1="242.25" x2="205.00" y2="242.25" stroke="#111" stroke-width="1.1"/>
<line x1="203.00" y1="257.35" x2="205.00" y2="257.35" stroke="#111" stroke-width="1.1"/>
<line x1="203.00" y1="272.45" x2="205.00" y2="272.45" stroke="#111" stroke-width="1.1"/>
<text x="217.85" y="290.5" font-size="6.9" text-anchor="middle">0</text>
<text x="242.35" y="290.5" font-size="6.9" text-anchor="middle">0.1</text>
<text x="266.85" y="290.5" font-size="6.9" text-anchor="middle">1</text>
<text x="291.35" y="290.5" font-size="6.9" text-anchor="middle">10</text>
<text x="315.85" y="290.5" font-size="6.9" text-anchor="middle">100</text>
<text x="265.5" y="195.7" font-size="9" text-anchor="middle">CD8</text>
<text x="267.2" y="302.8" font-size="9.3" text-anchor="middle">APG101 (µg/ml)</text>
<text x="184.6" y="242.0" font-size="9.1" text-anchor="middle" transform="rotate(-90 184.6 242.0)">% proliferation</text>
<rect x="335.90" y="236.30" width="4.70" height="4.80" fill="#bdbdbd" stroke="#2a2a2a" stroke-width="0.8"/>
<text x="343.8" y="241.3" font-size="7.5" text-anchor="start">medium</text>
<rect x="335.50" y="245.40" width="5.50" height="5.30" fill="#111"/>
<text x="343.8" y="250.4" font-size="7.4" text-anchor="start">B6D2F1 (allo)</text>
<text x="104.1" y="337.1" font-size="9" text-anchor="middle">- APG101</text>
<text x="269.2" y="335.8" font-size="9" text-anchor="middle">+ APG101</text>
<line x1="40.70" y1="354.60" x2="40.70" y2="430.90" stroke="#111" stroke-width="1.35"/>
<line x1="40.10" y1="430.20" x2="165.20" y2="430.20" stroke="#111" stroke-width="1.5"/>
<line x1="40.70" y1="430.20" x2="40.70" y2="433.10" stroke="#111" stroke-width="1.3"/>
<line x1="61.35" y1="430.20" x2="61.35" y2="433.10" stroke="#111" stroke-width="1.3"/>
<line x1="82.00" y1="430.20" x2="82.00" y2="433.10" stroke="#111" stroke-width="1.3"/>
<line x1="102.65" y1="430.20" x2="102.65" y2="433.10" stroke="#111" stroke-width="1.3"/>
<line x1="123.30" y1="430.20" x2="123.30" y2="433.10" stroke="#111" stroke-width="1.3"/>
<line x1="143.95" y1="430.20" x2="143.95" y2="433.10" stroke="#111" stroke-width="1.3"/>
<line x1="164.60" y1="430.20" x2="164.60" y2="433.10" stroke="#111" stroke-width="1.3"/>
<line x1="38.00" y1="355.20" x2="40.70" y2="355.20" stroke="#111" stroke-width="1.3"/>
<text x="36.5" y="357.7" font-size="7.0" text-anchor="end">25</text>
<line x1="38.00" y1="370.20" x2="40.70" y2="370.20" stroke="#111" stroke-width="1.3"/>
<text x="36.5" y="372.7" font-size="7.0" text-anchor="end">20</text>
<line x1="38.00" y1="385.20" x2="40.70" y2="385.20" stroke="#111" stroke-width="1.3"/>
<text x="36.5" y="387.7" font-size="7.0" text-anchor="end">15</text>
<line x1="38.00" y1="400.20" x2="40.70" y2="400.20" stroke="#111" stroke-width="1.3"/>
<text x="36.5" y="402.7" font-size="7.0" text-anchor="end">10</text>
<line x1="38.00" y1="415.20" x2="40.70" y2="415.20" stroke="#111" stroke-width="1.3"/>
<text x="36.5" y="417.7" font-size="7.0" text-anchor="end">5</text>
<line x1="38.00" y1="430.20" x2="40.70" y2="430.20" stroke="#111" stroke-width="1.3"/>
<text x="36.5" y="432.7" font-size="7.0" text-anchor="end">0</text>
<polyline points="51.03,392.70 71.67,417.10 92.33,428.70 112.97,429.30 133.62,429.30 154.27,429.30" fill="none" stroke="#111" stroke-width="1.55" stroke-linejoin="round"/>
<path d="M47.83 392.70L51.03 389.90L54.23 392.70L51.03 395.50Z" fill="#111"/>
<path d="M68.47 417.10L71.67 414.30L74.88 417.10L71.67 419.90Z" fill="#111"/>
<path d="M89.12 428.70L92.33 425.90L95.53 428.70L92.33 431.50Z" fill="#111"/>
<path d="M109.77 429.30L112.97 426.50L116.17 429.30L112.97 432.10Z" fill="#111"/>
<path d="M130.43 429.30L133.62 426.50L136.82 429.30L133.62 432.10Z" fill="#111"/>
<path d="M151.07 429.30L154.27 426.50L157.47 429.30L154.27 432.10Z" fill="#111"/>
<polyline points="51.03,429.00 71.67,429.00 92.33,428.80 112.97,428.90 133.62,428.90 154.27,428.90" fill="none" stroke="#7c7c7c" stroke-width="1.25" stroke-linejoin="round"/>
<path d="M48.43 429.00L51.03 426.60L53.63 429.00L51.03 431.40Z" fill="#a6a6a6"/>
<path d="M69.08 429.00L71.67 426.60L74.27 429.00L71.67 431.40Z" fill="#a6a6a6"/>
<path d="M89.73 428.80L92.33 426.40L94.92 428.80L92.33 431.20Z" fill="#a6a6a6"/>
<path d="M110.38 428.90L112.97 426.50L115.57 428.90L112.97 431.30Z" fill="#a6a6a6"/>
<path d="M131.03 428.90L133.62 426.50L136.22 428.90L133.62 431.30Z" fill="#a6a6a6"/>
<path d="M151.67 428.90L154.27 426.50L156.87 428.90L154.27 431.30Z" fill="#a6a6a6"/>
<text x="51.43" y="441.0" font-size="7.0" text-anchor="middle">10:1</text>
<text x="72.08" y="441.0" font-size="7.0" text-anchor="middle">5:1</text>
<text x="92.73" y="441.0" font-size="7.0" text-anchor="middle">2.5:1</text>
<text x="113.38" y="441.0" font-size="7.0" text-anchor="middle">1.25:1</text>
<text x="134.03" y="441.0" font-size="7.0" text-anchor="middle">0.6:1</text>
<text x="154.67" y="441.0" font-size="7.0" text-anchor="middle">0.3:1</text>
<text x="103.0" y="452.8" font-size="9.2" text-anchor="middle">effector:target ratio</text>
<text x="21.8" y="392.2" font-size="9.2" text-anchor="middle" transform="rotate(-90 21.8 392.2)">% specific lysis</text>
<rect x="115.60" y="354.20" width="6.20" height="5.80" fill="#111"/>
<text x="125.20" y="359.80" font-size="7.4" text-anchor="start">P815 (H-2<tspan font-size="4.5" dy="-2.3">d</tspan><tspan dy="2.3">)</tspan></text>
<rect x="116.10" y="364.15" width="5.00" height="4.80" fill="#d2d2d2" stroke="#2a2a2a" stroke-width="1.0"/>
<text x="125.20" y="368.70" font-size="7.4" text-anchor="start">EL4 (H-2<tspan font-size="4.5" dy="-2.3">b</tspan><tspan dy="2.3">)</tspan></text>
<line x1="207.00" y1="354.40" x2="207.00" y2="430.40" stroke="#111" stroke-width="1.35"/>
<line x1="206.40" y1="429.70" x2="332.60" y2="429.70" stroke="#111" stroke-width="1.5"/>
<line x1="207.00" y1="429.70" x2="207.00" y2="432.60" stroke="#111" stroke-width="1.3"/>
<line x1="227.83" y1="429.70" x2="227.83" y2="432.60" stroke="#111" stroke-width="1.3"/>
<line x1="248.67" y1="429.70" x2="248.67" y2="432.60" stroke="#111" stroke-width="1.3"/>
<line x1="269.50" y1="429.70" x2="269.50" y2="432.60" stroke="#111" stroke-width="1.3"/>
<line x1="290.33" y1="429.70" x2="290.33" y2="432.60" stroke="#111" stroke-width="1.3"/>
<line x1="311.17" y1="429.70" x2="311.17" y2="432.60" stroke="#111" stroke-width="1.3"/>
<line x1="332.00" y1="429.70" x2="332.00" y2="432.60" stroke="#111" stroke-width="1.3"/>
<line x1="204.30" y1="355.00" x2="207.00" y2="355.00" stroke="#111" stroke-width="1.3"/>
<text x="202.8" y="357.5" font-size="7.0" text-anchor="end">25</text>
<line x1="204.30" y1="369.94" x2="207.00" y2="369.94" stroke="#111" stroke-width="1.3"/>
<text x="202.8" y="372.44" font-size="7.0" text-anchor="end">20</text>
<line x1="204.30" y1="384.88" x2="207.00" y2="384.88" stroke="#111" stroke-width="1.3"/>
<text x="202.8" y="387.38" font-size="7.0" text-anchor="end">15</text>
<line x1="204.30" y1="399.82" x2="207.00" y2="399.82" stroke="#111" stroke-width="1.3"/>
<text x="202.8" y="402.32" font-size="7.0" text-anchor="end">10</text>
<line x1="204.30" y1="414.76" x2="207.00" y2="414.76" stroke="#111" stroke-width="1.3"/>
<text x="202.8" y="417.26" font-size="7.0" text-anchor="end">5</text>
<line x1="204.30" y1="429.70" x2="207.00" y2="429.70" stroke="#111" stroke-width="1.3"/>
<text x="202.8" y="432.2" font-size="7.0" text-anchor="end">0</text>
<polyline points="217.42,388.75 238.25,401.25 259.08,421.25 279.92,428.75 300.75,429.00 321.58,425.00" fill="none" stroke="#111" stroke-width="1.55" stroke-linejoin="round"/>
<path d="M214.22 388.75L217.42 385.95L220.62 388.75L217.42 391.55Z" fill="#111"/>
<path d="M235.05 401.25L238.25 398.45L241.45 401.25L238.25 404.05Z" fill="#111"/>
<path d="M255.88 421.25L259.08 418.45L262.28 421.25L259.08 424.05Z" fill="#111"/>
<path d="M276.72 428.75L279.92 425.95L283.12 428.75L279.92 431.55Z" fill="#111"/>
<path d="M297.55 429.00L300.75 426.20L303.95 429.00L300.75 431.80Z" fill="#111"/>
<path d="M318.38 425.00L321.58 422.20L324.78 425.00L321.58 427.80Z" fill="#111"/>
<polyline points="217.42,428.50 238.25,428.50 259.08,423.75 279.92,428.75 300.75,425.00 321.58,429.25" fill="none" stroke="#7c7c7c" stroke-width="1.25" stroke-linejoin="round"/>
<path d="M214.82 428.50L217.42 426.10L220.02 428.50L217.42 430.90Z" fill="#a6a6a6"/>
<path d="M235.65 428.50L238.25 426.10L240.85 428.50L238.25 430.90Z" fill="#a6a6a6"/>
<path d="M256.48 423.75L259.08 421.35L261.68 423.75L259.08 426.15Z" fill="#a6a6a6"/>
<path d="M277.32 428.75L279.92 426.35L282.52 428.75L279.92 431.15Z" fill="#a6a6a6"/>
<path d="M298.15 425.00L300.75 422.60L303.35 425.00L300.75 427.40Z" fill="#a6a6a6"/>
<path d="M318.98 429.25L321.58 426.85L324.18 429.25L321.58 431.65Z" fill="#a6a6a6"/>
<text x="217.82" y="441.0" font-size="7.0" text-anchor="middle">10:1</text>
<text x="238.65" y="441.0" font-size="7.0" text-anchor="middle">5:1</text>
<text x="259.48" y="441.0" font-size="7.0" text-anchor="middle">2.5:1</text>
<text x="280.32" y="441.0" font-size="7.0" text-anchor="middle">1.25:1</text>
<text x="301.15" y="441.0" font-size="7.0" text-anchor="middle">0.6:1</text>
<text x="321.98" y="441.0" font-size="7.0" text-anchor="middle">0.3:1</text>
<text x="270.0" y="452.5" font-size="9.2" text-anchor="middle">effector:target ratio</text>
<text x="186.6" y="391.8" font-size="9.2" text-anchor="middle" transform="rotate(-90 186.6 391.8)">% specific lysis</text>
<rect x="282.40" y="354.30" width="6.20" height="5.80" fill="#111"/>
<text x="292.00" y="359.90" font-size="7.4" text-anchor="start">P815 (H-2<tspan font-size="4.5" dy="-2.3">d</tspan><tspan dy="2.3">)</tspan></text>
<rect x="282.90" y="364.25" width="5.00" height="4.80" fill="#d2d2d2" stroke="#2a2a2a" stroke-width="1.0"/>
<text x="292.00" y="368.80" font-size="7.4" text-anchor="start">EL4 (H-2<tspan font-size="4.5" dy="-2.3">b</tspan><tspan dy="2.3">)</tspan></text>
<text x="341.8" y="389.3" font-size="9.2" text-anchor="start">1<tspan font-size="7.3" dy="-3.1">st</tspan><tspan dy="3.1"> stim.</tspan></text>
<line x1="41.25" y1="470.40" x2="41.25" y2="546.80" stroke="#111" stroke-width="1.35"/>
<line x1="40.65" y1="546.10" x2="165.60" y2="546.10" stroke="#111" stroke-width="1.5"/>
<line x1="41.25" y1="546.10" x2="41.25" y2="549.00" stroke="#111" stroke-width="1.3"/>
<line x1="61.88" y1="546.10" x2="61.88" y2="549.00" stroke="#111" stroke-width="1.3"/>
<line x1="82.50" y1="546.10" x2="82.50" y2="549.00" stroke="#111" stroke-width="1.3"/>
<line x1="103.12" y1="546.10" x2="103.12" y2="549.00" stroke="#111" stroke-width="1.3"/>
<line x1="123.75" y1="546.10" x2="123.75" y2="549.00" stroke="#111" stroke-width="1.3"/>
<line x1="144.38" y1="546.10" x2="144.38" y2="549.00" stroke="#111" stroke-width="1.3"/>
<line x1="165.00" y1="546.10" x2="165.00" y2="549.00" stroke="#111" stroke-width="1.3"/>
<line x1="38.55" y1="471.00" x2="41.25" y2="471.00" stroke="#111" stroke-width="1.3"/>
<text x="37.05" y="473.5" font-size="7.0" text-anchor="end">70</text>
<line x1="38.55" y1="481.73" x2="41.25" y2="481.73" stroke="#111" stroke-width="1.3"/>
<text x="37.05" y="484.23" font-size="7.0" text-anchor="end">60</text>
<line x1="38.55" y1="492.46" x2="41.25" y2="492.46" stroke="#111" stroke-width="1.3"/>
<text x="37.05" y="494.96" font-size="7.0" text-anchor="end">50</text>
<line x1="38.55" y1="503.19" x2="41.25" y2="503.19" stroke="#111" stroke-width="1.3"/>
<text x="37.05" y="505.69" font-size="7.0" text-anchor="end">40</text>
<line x1="38.55" y1="513.91" x2="41.25" y2="513.91" stroke="#111" stroke-width="1.3"/>
<text x="37.05" y="516.41" font-size="7.0" text-anchor="end">30</text>
<line x1="38.55" y1="524.64" x2="41.25" y2="524.64" stroke="#111" stroke-width="1.3"/>
<text x="37.05" y="527.14" font-size="7.0" text-anchor="end">20</text>
<line x1="38.55" y1="535.37" x2="41.25" y2="535.37" stroke="#111" stroke-width="1.3"/>
<text x="37.05" y="537.87" font-size="7.0" text-anchor="end">10</text>
<line x1="38.55" y1="546.10" x2="41.25" y2="546.10" stroke="#111" stroke-width="1.3"/>
<text x="37.05" y="548.6" font-size="7.0" text-anchor="end">0</text>
<polyline points="51.56,474.25 72.19,493.75 92.81,508.75 113.44,516.25 134.06,529.25 154.69,537.50" fill="none" stroke="#111" stroke-width="1.55" stroke-linejoin="round"/>
<path d="M48.36 474.25L51.56 471.45L54.76 474.25L51.56 477.05Z" fill="#111"/>
<path d="M68.99 493.75L72.19 490.95L75.39 493.75L72.19 496.55Z" fill="#111"/>
<path d="M89.61 508.75L92.81 505.95L96.01 508.75L92.81 511.55Z" fill="#111"/>
<path d="M110.24 516.25L113.44 513.45L116.64 516.25L113.44 519.05Z" fill="#111"/>
<path d="M130.86 529.25L134.06 526.45L137.26 529.25L134.06 532.05Z" fill="#111"/>
<path d="M151.49 537.50L154.69 534.70L157.89 537.50L154.69 540.30Z" fill="#111"/>
<polyline points="51.56,544.25 72.19,545.00 92.81,545.00 113.44,545.00 134.06,545.00 154.69,545.00" fill="none" stroke="#7c7c7c" stroke-width="1.25" stroke-linejoin="round"/>
<path d="M48.96 544.25L51.56 541.85L54.16 544.25L51.56 546.65Z" fill="#a6a6a6"/>
<path d="M69.59 545.00L72.19 542.60L74.79 545.00L72.19 547.40Z" fill="#a6a6a6"/>
<path d="M90.21 545.00L92.81 542.60L95.41 545.00L92.81 547.40Z" fill="#a6a6a6"/>
<path d="M110.84 545.00L113.44 542.60L116.04 545.00L113.44 547.40Z" fill="#a6a6a6"/>
<path d="M131.46 545.00L134.06 542.60L136.66 545.00L134.06 547.40Z" fill="#a6a6a6"/>
<path d="M152.09 545.00L154.69 542.60L157.29 545.00L154.69 547.40Z" fill="#a6a6a6"/>
<text x="51.96" y="555.9000000000001" font-size="7.0" text-anchor="middle">10:1</text>
<text x="72.59" y="555.9000000000001" font-size="7.0" text-anchor="middle">5:1</text>
<text x="93.21" y="555.9000000000001" font-size="7.0" text-anchor="middle">2.5:1</text>
<text x="113.84" y="555.9000000000001" font-size="7.0" text-anchor="middle">1.25:1</text>
<text x="134.46" y="555.9000000000001" font-size="7.0" text-anchor="middle">0.6:1</text>
<text x="155.09" y="555.9000000000001" font-size="7.0" text-anchor="middle">0.3:1</text>
<text x="103.5" y="568.2" font-size="9.2" text-anchor="middle">effector:target ratio</text>
<text x="21.3" y="509.0" font-size="9.2" text-anchor="middle" transform="rotate(-90 21.3 509.0)">% specific lysis</text>
<rect x="116.90" y="469.80" width="6.20" height="5.80" fill="#111"/>
<text x="126.50" y="475.40" font-size="7.4" text-anchor="start">P815 (H-2<tspan font-size="4.5" dy="-2.3">d</tspan><tspan dy="2.3">)</tspan></text>
<rect x="117.40" y="479.75" width="5.00" height="4.80" fill="#d2d2d2" stroke="#2a2a2a" stroke-width="1.0"/>
<text x="126.50" y="484.30" font-size="7.4" text-anchor="start">EL4 (H-2<tspan font-size="4.5" dy="-2.3">b</tspan><tspan dy="2.3">)</tspan></text>
<line x1="207.00" y1="470.40" x2="207.00" y2="546.80" stroke="#111" stroke-width="1.35"/>
<line x1="206.40" y1="546.10" x2="332.50" y2="546.10" stroke="#111" stroke-width="1.5"/>
<line x1="207.00" y1="546.10" x2="207.00" y2="549.00" stroke="#111" stroke-width="1.3"/>
<line x1="227.82" y1="546.10" x2="227.82" y2="549.00" stroke="#111" stroke-width="1.3"/>
<line x1="248.63" y1="546.10" x2="248.63" y2="549.00" stroke="#111" stroke-width="1.3"/>
<line x1="269.45" y1="546.10" x2="269.45" y2="549.00" stroke="#111" stroke-width="1.3"/>
<line x1="290.27" y1="546.10" x2="290.27" y2="549.00" stroke="#111" stroke-width="1.3"/>
<line x1="311.08" y1="546.10" x2="311.08" y2="549.00" stroke="#111" stroke-width="1.3"/>
<line x1="331.90" y1="546.10" x2="331.90" y2="549.00" stroke="#111" stroke-width="1.3"/>
<line x1="204.30" y1="471.00" x2="207.00" y2="471.00" stroke="#111" stroke-width="1.3"/>
<text x="202.8" y="473.5" font-size="7.0" text-anchor="end">70</text>
<line x1="204.30" y1="481.73" x2="207.00" y2="481.73" stroke="#111" stroke-width="1.3"/>
<text x="202.8" y="484.23" font-size="7.0" text-anchor="end">60</text>
<line x1="204.30" y1="492.46" x2="207.00" y2="492.46" stroke="#111" stroke-width="1.3"/>
<text x="202.8" y="494.96" font-size="7.0" text-anchor="end">50</text>
<line x1="204.30" y1="503.19" x2="207.00" y2="503.19" stroke="#111" stroke-width="1.3"/>
<text x="202.8" y="505.69" font-size="7.0" text-anchor="end">40</text>
<line x1="204.30" y1="513.91" x2="207.00" y2="513.91" stroke="#111" stroke-width="1.3"/>
<text x="202.8" y="516.41" font-size="7.0" text-anchor="end">30</text>
<line x1="204.30" y1="524.64" x2="207.00" y2="524.64" stroke="#111" stroke-width="1.3"/>
<text x="202.8" y="527.14" font-size="7.0" text-anchor="end">20</text>
<line x1="204.30" y1="535.37" x2="207.00" y2="535.37" stroke="#111" stroke-width="1.3"/>
<text x="202.8" y="537.87" font-size="7.0" text-anchor="end">10</text>
<line x1="204.30" y1="546.10" x2="207.00" y2="546.10" stroke="#111" stroke-width="1.3"/>
<text x="202.8" y="548.6" font-size="7.0" text-anchor="end">0</text>
<polyline points="217.41,477.50 238.22,498.25 259.04,512.75 279.86,526.25 300.67,535.50 321.49,538.75" fill="none" stroke="#111" stroke-width="1.55" stroke-linejoin="round"/>
<path d="M214.21 477.50L217.41 474.70L220.61 477.50L217.41 480.30Z" fill="#111"/>
<path d="M235.03 498.25L238.22 495.45L241.42 498.25L238.22 501.05Z" fill="#111"/>
<path d="M255.84 512.75L259.04 509.95L262.24 512.75L259.04 515.55Z" fill="#111"/>
<path d="M276.66 526.25L279.86 523.45L283.06 526.25L279.86 529.05Z" fill="#111"/>
<path d="M297.47 535.50L300.67 532.70L303.87 535.50L300.67 538.30Z" fill="#111"/>
<path d="M318.29 538.75L321.49 535.95L324.69 538.75L321.49 541.55Z" fill="#111"/>
<polyline points="217.41,545.00 238.22,545.00 259.04,545.00 279.86,545.00 300.67,545.00 321.49,545.00" fill="none" stroke="#7c7c7c" stroke-width="1.25" stroke-linejoin="round"/>
<path d="M214.81 545.00L217.41 542.60L220.01 545.00L217.41 547.40Z" fill="#a6a6a6"/>
<path d="M235.62 545.00L238.22 542.60L240.82 545.00L238.22 547.40Z" fill="#a6a6a6"/>
<path d="M256.44 545.00L259.04 542.60L261.64 545.00L259.04 547.40Z" fill="#a6a6a6"/>
<path d="M277.26 545.00L279.86 542.60L282.46 545.00L279.86 547.40Z" fill="#a6a6a6"/>
<path d="M298.07 545.00L300.67 542.60L303.27 545.00L300.67 547.40Z" fill="#a6a6a6"/>
<path d="M318.89 545.00L321.49 542.60L324.09 545.00L321.49 547.40Z" fill="#a6a6a6"/>
<text x="217.81" y="555.9000000000001" font-size="7.0" text-anchor="middle">10:1</text>
<text x="238.62" y="555.9000000000001" font-size="7.0" text-anchor="middle">5:1</text>
<text x="259.44" y="555.9000000000001" font-size="7.0" text-anchor="middle">2.5:1</text>
<text x="280.26" y="555.9000000000001" font-size="7.0" text-anchor="middle">1.25:1</text>
<text x="301.07" y="555.9000000000001" font-size="7.0" text-anchor="middle">0.6:1</text>
<text x="321.89" y="555.9000000000001" font-size="7.0" text-anchor="middle">0.3:1</text>
<text x="269.0" y="568.2" font-size="9.2" text-anchor="middle">effector:target ratio</text>
<text x="186.7" y="509.0" font-size="9.2" text-anchor="middle" transform="rotate(-90 186.7 509.0)">% specific lysis</text>
<rect x="282.40" y="469.80" width="6.20" height="5.80" fill="#111"/>
<text x="292.00" y="475.40" font-size="7.4" text-anchor="start">P815 (H-2<tspan font-size="4.5" dy="-2.3">d</tspan><tspan dy="2.3">)</tspan></text>
<rect x="282.90" y="479.75" width="5.00" height="4.80" fill="#d2d2d2" stroke="#2a2a2a" stroke-width="1.0"/>
<text x="292.00" y="484.30" font-size="7.4" text-anchor="start">EL4 (H-2<tspan font-size="4.5" dy="-2.3">b</tspan><tspan dy="2.3">)</tspan></text>
<text x="342" y="510.5" font-size="9.2" text-anchor="start">2<tspan font-size="7.3" dy="-3.1">nd</tspan><tspan dy="3.1"> stim.</tspan></text>
<line x1="42.50" y1="585.40" x2="42.50" y2="661.45" stroke="#111" stroke-width="1.35"/>
<line x1="41.90" y1="660.75" x2="166.40" y2="660.75" stroke="#111" stroke-width="1.5"/>
<line x1="42.50" y1="660.75" x2="42.50" y2="663.65" stroke="#111" stroke-width="1.3"/>
<line x1="63.05" y1="660.75" x2="63.05" y2="663.65" stroke="#111" stroke-width="1.3"/>
<line x1="83.60" y1="660.75" x2="83.60" y2="663.65" stroke="#111" stroke-width="1.3"/>
<line x1="104.15" y1="660.75" x2="104.15" y2="663.65" stroke="#111" stroke-width="1.3"/>
<line x1="124.70" y1="660.75" x2="124.70" y2="663.65" stroke="#111" stroke-width="1.3"/>
<line x1="145.25" y1="660.75" x2="145.25" y2="663.65" stroke="#111" stroke-width="1.3"/>
<line x1="165.80" y1="660.75" x2="165.80" y2="663.65" stroke="#111" stroke-width="1.3"/>
<line x1="39.80" y1="586.00" x2="42.50" y2="586.00" stroke="#111" stroke-width="1.3"/>
<text x="38.3" y="588.5" font-size="7.0" text-anchor="end">70</text>
<line x1="39.80" y1="596.68" x2="42.50" y2="596.68" stroke="#111" stroke-width="1.3"/>
<text x="38.3" y="599.18" font-size="7.0" text-anchor="end">60</text>
<line x1="39.80" y1="607.36" x2="42.50" y2="607.36" stroke="#111" stroke-width="1.3"/>
<text x="38.3" y="609.86" font-size="7.0" text-anchor="end">50</text>
<line x1="39.80" y1="618.04" x2="42.50" y2="618.04" stroke="#111" stroke-width="1.3"/>
<text x="38.3" y="620.54" font-size="7.0" text-anchor="end">40</text>
<line x1="39.80" y1="628.71" x2="42.50" y2="628.71" stroke="#111" stroke-width="1.3"/>
<text x="38.3" y="631.21" font-size="7.0" text-anchor="end">30</text>
<line x1="39.80" y1="639.39" x2="42.50" y2="639.39" stroke="#111" stroke-width="1.3"/>
<text x="38.3" y="641.89" font-size="7.0" text-anchor="end">20</text>
<line x1="39.80" y1="650.07" x2="42.50" y2="650.07" stroke="#111" stroke-width="1.3"/>
<text x="38.3" y="652.57" font-size="7.0" text-anchor="end">10</text>
<line x1="39.80" y1="660.75" x2="42.50" y2="660.75" stroke="#111" stroke-width="1.3"/>
<text x="38.3" y="663.25" font-size="7.0" text-anchor="end">0</text>
<polyline points="52.77,591.25 73.33,600.75 93.88,614.90 114.42,634.50 134.98,648.00 155.53,651.00" fill="none" stroke="#111" stroke-width="1.55" stroke-linejoin="round"/>
<path d="M49.57 591.25L52.77 588.45L55.98 591.25L52.77 594.05Z" fill="#111"/>
<path d="M70.12 600.75L73.33 597.95L76.53 600.75L73.33 603.55Z" fill="#111"/>
<path d="M90.67 614.90L93.88 612.10L97.08 614.90L93.88 617.70Z" fill="#111"/>
<path d="M111.22 634.50L114.42 631.70L117.62 634.50L114.42 637.30Z" fill="#111"/>
<path d="M131.78 648.00L134.98 645.20L138.18 648.00L134.98 650.80Z" fill="#111"/>
<path d="M152.33 651.00L155.53 648.20L158.72 651.00L155.53 653.80Z" fill="#111"/>
<polyline points="52.77,659.50 73.33,660.00 93.88,660.00 114.42,660.00 134.98,660.00 155.53,660.00" fill="none" stroke="#7c7c7c" stroke-width="1.25" stroke-linejoin="round"/>
<path d="M50.17 659.50L52.77 657.10L55.38 659.50L52.77 661.90Z" fill="#a6a6a6"/>
<path d="M70.73 660.00L73.33 657.60L75.92 660.00L73.33 662.40Z" fill="#a6a6a6"/>
<path d="M91.28 660.00L93.88 657.60L96.47 660.00L93.88 662.40Z" fill="#a6a6a6"/>
<path d="M111.83 660.00L114.42 657.60L117.02 660.00L114.42 662.40Z" fill="#a6a6a6"/>
<path d="M132.38 660.00L134.98 657.60L137.58 660.00L134.98 662.40Z" fill="#a6a6a6"/>
<path d="M152.93 660.00L155.53 657.60L158.12 660.00L155.53 662.40Z" fill="#a6a6a6"/>
<text x="53.17" y="671.0" font-size="7.0" text-anchor="middle">10:1</text>
<text x="73.73" y="671.0" font-size="7.0" text-anchor="middle">5:1</text>
<text x="94.28" y="671.0" font-size="7.0" text-anchor="middle">2.5:1</text>
<text x="114.83" y="671.0" font-size="7.0" text-anchor="middle">1.25:1</text>
<text x="135.38" y="671.0" font-size="7.0" text-anchor="middle">0.6:1</text>
<text x="155.93" y="671.0" font-size="7.0" text-anchor="middle">0.3:1</text>
<text x="103.8" y="683.0" font-size="9.2" text-anchor="middle">effector:target ratio</text>
<text x="21.2" y="623.3" font-size="9.2" text-anchor="middle" transform="rotate(-90 21.2 623.3)">% specific lysis</text>
<rect x="117.40" y="584.40" width="6.20" height="5.80" fill="#111"/>
<text x="127.00" y="590.00" font-size="7.4" text-anchor="start">P815 (H-2<tspan font-size="4.5" dy="-2.3">d</tspan><tspan dy="2.3">)</tspan></text>
<rect x="117.90" y="594.35" width="5.00" height="4.80" fill="#d2d2d2" stroke="#2a2a2a" stroke-width="1.0"/>
<text x="127.00" y="598.90" font-size="7.4" text-anchor="start">EL4 (H-2<tspan font-size="4.5" dy="-2.3">b</tspan><tspan dy="2.3">)</tspan></text>
<line x1="206.75" y1="584.40" x2="206.75" y2="660.95" stroke="#111" stroke-width="1.35"/>
<line x1="206.15" y1="660.25" x2="332.10" y2="660.25" stroke="#111" stroke-width="1.5"/>
<line x1="206.75" y1="660.25" x2="206.75" y2="663.15" stroke="#111" stroke-width="1.3"/>
<line x1="227.54" y1="660.25" x2="227.54" y2="663.15" stroke="#111" stroke-width="1.3"/>
<line x1="248.33" y1="660.25" x2="248.33" y2="663.15" stroke="#111" stroke-width="1.3"/>
<line x1="269.12" y1="660.25" x2="269.12" y2="663.15" stroke="#111" stroke-width="1.3"/>
<line x1="289.92" y1="660.25" x2="289.92" y2="663.15" stroke="#111" stroke-width="1.3"/>
<line x1="310.71" y1="660.25" x2="310.71" y2="663.15" stroke="#111" stroke-width="1.3"/>
<line x1="331.50" y1="660.25" x2="331.50" y2="663.15" stroke="#111" stroke-width="1.3"/>
<line x1="204.05" y1="585.00" x2="206.75" y2="585.00" stroke="#111" stroke-width="1.3"/>
<text x="202.55" y="587.5" font-size="7.0" text-anchor="end">70</text>
<line x1="204.05" y1="595.75" x2="206.75" y2="595.75" stroke="#111" stroke-width="1.3"/>
<text x="202.55" y="598.25" font-size="7.0" text-anchor="end">60</text>
<line x1="204.05" y1="606.50" x2="206.75" y2="606.50" stroke="#111" stroke-width="1.3"/>
<text x="202.55" y="609.0" font-size="7.0" text-anchor="end">50</text>
<line x1="204.05" y1="617.25" x2="206.75" y2="617.25" stroke="#111" stroke-width="1.3"/>
<text x="202.55" y="619.75" font-size="7.0" text-anchor="end">40</text>
<line x1="204.05" y1="628.00" x2="206.75" y2="628.00" stroke="#111" stroke-width="1.3"/>
<text x="202.55" y="630.5" font-size="7.0" text-anchor="end">30</text>
<line x1="204.05" y1="638.75" x2="206.75" y2="638.75" stroke="#111" stroke-width="1.3"/>
<text x="202.55" y="641.25" font-size="7.0" text-anchor="end">20</text>
<line x1="204.05" y1="649.50" x2="206.75" y2="649.50" stroke="#111" stroke-width="1.3"/>
<text x="202.55" y="652.0" font-size="7.0" text-anchor="end">10</text>
<line x1="204.05" y1="660.25" x2="206.75" y2="660.25" stroke="#111" stroke-width="1.3"/>
<text x="202.55" y="662.75" font-size="7.0" text-anchor="end">0</text>
<polyline points="217.15,596.25 237.94,601.25 258.73,616.25 279.52,631.75 300.31,642.50 321.10,651.25" fill="none" stroke="#111" stroke-width="1.55" stroke-linejoin="round"/>
<path d="M213.95 596.25L217.15 593.45L220.35 596.25L217.15 599.05Z" fill="#111"/>
<path d="M234.74 601.25L237.94 598.45L241.14 601.25L237.94 604.05Z" fill="#111"/>
<path d="M255.53 616.25L258.73 613.45L261.93 616.25L258.73 619.05Z" fill="#111"/>
<path d="M276.32 631.75L279.52 628.95L282.72 631.75L279.52 634.55Z" fill="#111"/>
<path d="M297.11 642.50L300.31 639.70L303.51 642.50L300.31 645.30Z" fill="#111"/>
<path d="M317.90 651.25L321.10 648.45L324.30 651.25L321.10 654.05Z" fill="#111"/>
<polyline points="217.15,659.30 237.94,659.30 258.73,659.30 279.52,659.30 300.31,659.30 321.10,659.30" fill="none" stroke="#7c7c7c" stroke-width="1.25" stroke-linejoin="round"/>
<path d="M214.55 659.30L217.15 656.90L219.75 659.30L217.15 661.70Z" fill="#a6a6a6"/>
<path d="M235.34 659.30L237.94 656.90L240.54 659.30L237.94 661.70Z" fill="#a6a6a6"/>
<path d="M256.13 659.30L258.73 656.90L261.33 659.30L258.73 661.70Z" fill="#a6a6a6"/>
<path d="M276.92 659.30L279.52 656.90L282.12 659.30L279.52 661.70Z" fill="#a6a6a6"/>
<path d="M297.71 659.30L300.31 656.90L302.91 659.30L300.31 661.70Z" fill="#a6a6a6"/>
<path d="M318.50 659.30L321.10 656.90L323.70 659.30L321.10 661.70Z" fill="#a6a6a6"/>
<text x="217.55" y="671.0" font-size="7.0" text-anchor="middle">10:1</text>
<text x="238.34" y="671.0" font-size="7.0" text-anchor="middle">5:1</text>
<text x="259.13" y="671.0" font-size="7.0" text-anchor="middle">2.5:1</text>
<text x="279.92" y="671.0" font-size="7.0" text-anchor="middle">1.25:1</text>
<text x="300.71" y="671.0" font-size="7.0" text-anchor="middle">0.6:1</text>
<text x="321.5" y="671.0" font-size="7.0" text-anchor="middle">0.3:1</text>
<text x="268.4" y="683.0" font-size="9.2" text-anchor="middle">effector:target ratio</text>
<text x="186.7" y="623.0" font-size="9.2" text-anchor="middle" transform="rotate(-90 186.7 623.0)">% specific lysis</text>
<rect x="282.40" y="584.40" width="6.20" height="5.80" fill="#111"/>
<text x="292.00" y="590.00" font-size="7.4" text-anchor="start">P815 (H-2<tspan font-size="4.5" dy="-2.3">d</tspan><tspan dy="2.3">)</tspan></text>
<rect x="282.90" y="594.35" width="5.00" height="4.80" fill="#d2d2d2" stroke="#2a2a2a" stroke-width="1.0"/>
<text x="292.00" y="598.90" font-size="7.4" text-anchor="start">EL4 (H-2<tspan font-size="4.5" dy="-2.3">b</tspan><tspan dy="2.3">)</tspan></text>
<text x="342" y="625.3" font-size="9.2" text-anchor="start">3<tspan font-size="7.3" dy="-3.1">rd</tspan><tspan dy="3.1"> stim.</tspan></text>
</svg></body></html>
